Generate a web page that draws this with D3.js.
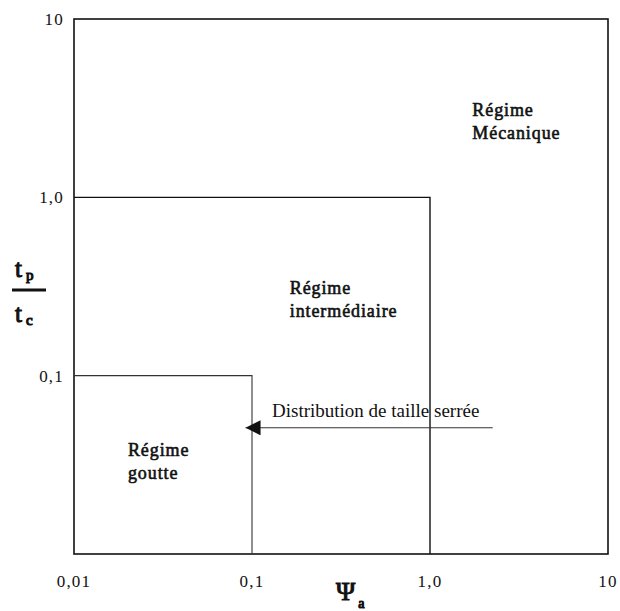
<!DOCTYPE html>
<html>
<head>
<meta charset="utf-8">
<script src="https://cdn.jsdelivr.net/npm/d3@7"></script>
<style>
  body { margin: 0; background: #fff; }
  svg { display: block; }
  text { font-family: "Liberation Serif", "DejaVu Serif", serif; fill: #111; }
</style>
</head>
<body>
<svg id="chart" width="620" height="611"></svg>
<script>
// axis ticks
const xTicks = [0.01, 0.1, 1, 10];
const xTickLabels = ["0,01", "0,1", "1,0", "10"];
const yTicks = [0.1, 1, 10];
const yTickLabels = ["0,1", "1,0", "10"];

// upper corner of each regime box (psi_a, tp/tc)
const boxX = [0.1, 1.0];
const boxY = [0.1, 1.0];

// regime names and where they sit (psi_a, tp/tc)
const regimeNames = [["Régime", "goutte"], ["Régime", "intermédiaire"], ["Régime", "Mécanique"]];
const regimeAt = [[0.0201, 0.0354], [0.163, 0.287], [1.73, 2.86]];

// arrow: narrow size distribution
const arrowText = "Distribution de taille serrée";
const arrowFrom = [2.25, 0.051];
const arrowTo = [0.092, 0.051];

const svg = d3.select("#chart");

const x = d3.scaleLog().domain([0.01, 10]).range([74, 608]);
const y = d3.scaleLog().domain([0.01, 10]).range([554, 19]);

// outer frame
svg.append("rect")
    .attr("x", x(0.01))
    .attr("y", y(10))
    .attr("width", x(10) - x(0.01))
    .attr("height", y(0.01) - y(10))
    .attr("fill", "none")
    .attr("stroke", "#111")
    .attr("stroke-width", 1.6);

// regime boxes
boxX.forEach((bx, i) => {
    const by = boxY[i];
    svg.append("path")
        .attr("d", d3.line()([[x(0.01), y(by)], [x(bx), y(by)], [x(bx), y(0.01)]]))
        .attr("fill", "none")
        .attr("stroke", i === 0 ? "#333" : "#111")
        .attr("stroke-width", i === 0 ? 1.1 : 1.4);
});

// tick labels
svg.selectAll(".xt")
    .data(xTicks)
    .enter().append("text")
    .attr("class", "xt")
    .attr("x", d => x(d))
    .attr("y", 587)
    .attr("text-anchor", "middle")
    .attr("font-size", 17)
    .attr("letter-spacing", 1.2)
    .text((d, i) => xTickLabels[i]);

svg.selectAll(".yt")
    .data(yTicks)
    .enter().append("text")
    .attr("class", "yt")
    .attr("x", 64)
    .attr("y", d => y(d) + 6)
    .attr("text-anchor", "end")
    .attr("font-size", 17)
    .attr("letter-spacing", 1.2)
    .text((d, i) => yTickLabels[i]);

// bold look: regular face with a thin stroke
function heavy(sel, w) {
    return sel.attr("stroke", "#111").attr("stroke-width", w).attr("paint-order", "stroke");
}

// x axis title  psi_a
const xt = heavy(svg.append("text")
    .attr("x", 336)
    .attr("y", 600)
    .attr("font-size", 26), 1.1);
xt.append("tspan").text("Ψ");
xt.append("tspan").attr("font-size", 14).attr("dy", 8).attr("dx", 3).text("a");

// y axis title  tp / tc
const yt1 = heavy(svg.append("text").attr("x", 15).attr("y", 277).attr("font-size", 25), 1.1);
yt1.append("tspan").text("t");
yt1.append("tspan").attr("font-size", 15).attr("dx", 4).attr("dy", 3).text("p");

svg.append("line")
    .attr("x1", 12).attr("x2", 46)
    .attr("y1", 290).attr("y2", 290)
    .attr("stroke", "#111")
    .attr("stroke-width", 3);

const yt2 = heavy(svg.append("text").attr("x", 15).attr("y", 322).attr("font-size", 25), 1.1);
yt2.append("tspan").text("t");
yt2.append("tspan").attr("font-size", 15).attr("dx", 4).attr("dy", 3).text("c");

// regime labels
regimeNames.forEach((lines, i) => {
    const t = heavy(svg.append("text")
        .attr("x", x(regimeAt[i][0]))
        .attr("y", y(regimeAt[i][1]))
        .attr("font-size", 18)
        .attr("letter-spacing", 0.9), 0.6);
    lines.forEach((s, j) => {
        t.append("tspan")
            .attr("x", x(regimeAt[i][0]))
            .attr("dy", j === 0 ? 0 : 23)
            .text(s);
    });
});

// arrow
svg.append("defs").append("marker")
    .attr("id", "head")
    .attr("viewBox", "0 0 10 10")
    .attr("refX", 10).attr("refY", 5)
    .attr("markerWidth", 17).attr("markerHeight", 15)
    .attr("markerUnits", "userSpaceOnUse")
    .attr("orient", "auto")
    .append("path")
    .attr("d", "M0,0L10,5L0,10Z")
    .attr("fill", "#111");

svg.append("line")
    .attr("x1", x(arrowFrom[0])).attr("y1", y(arrowFrom[1]))
    .attr("x2", x(arrowTo[0])).attr("y2", y(arrowTo[1]))
    .attr("stroke", "#333")
    .attr("stroke-width", 1.1)
    .attr("marker-end", "url(#head)");

svg.append("text")
    .attr("x", 272)
    .attr("y", y(arrowFrom[1]) - 11)
    .attr("font-size", 19)
    .text(arrowText);
</script>
</body>
</html>
